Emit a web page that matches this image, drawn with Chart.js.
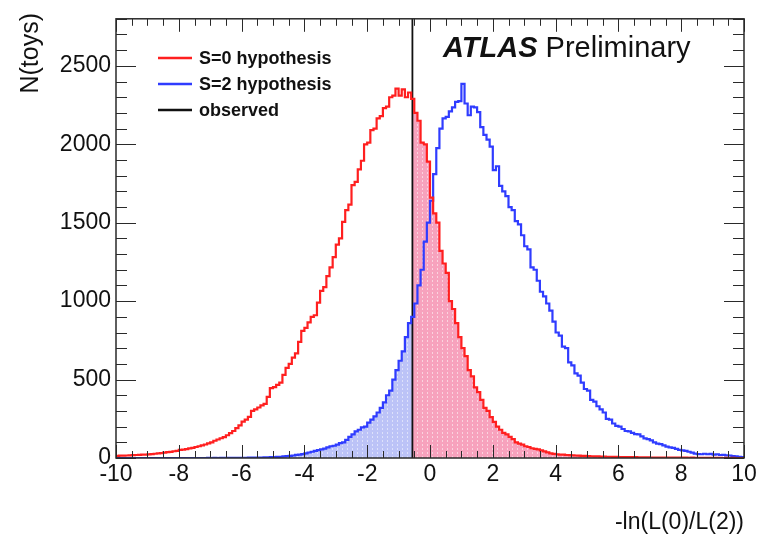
<!DOCTYPE html>
<html>
<head>
<meta charset="utf-8">
<script src="https://cdn.jsdelivr.net/npm/chart.js@4.4.1/dist/chart.umd.min.js"></script>
<style>
  html, body { margin: 0; padding: 0; background: #fff; }
  #wrap { width: 760px; height: 536px; }
</style>
</head>
<body>
<div id="wrap"><canvas id="toys"></canvas></div>
<script>
// histogram binning: 200 bins of 0.1 from -10 to 10
const binLow = -10;
const binHigh = 10;
const binWidth = 0.1;
const observed = -0.56;

// S=0 hypothesis, counts per bin
const s0Counts = [
  14, 15, 15, 16, 17, 18, 19, 20, 21, 22,
  23, 25, 27, 29, 31, 34, 37, 39, 43, 46,
  52, 54, 57, 61, 65, 70, 75, 80, 86, 93,
  100, 110, 118, 126, 133, 145, 158, 172, 190, 208,
  232, 245, 262, 300, 310, 322, 335, 345, 390, 445,
  452, 466, 480, 530, 575, 600, 640, 667, 740, 810,
  830, 865, 900, 910, 990, 1065, 1090, 1160, 1215, 1280,
  1360, 1400, 1505, 1580, 1615, 1740, 1760, 1840, 1895, 2000,
  2010, 2090, 2100, 2165, 2180, 2230, 2240, 2300, 2310, 2355,
  2310, 2350, 2300, 2330, 2290, 2200, 2150, 2010, 2000, 1890,
  1660, 1560, 1500, 1320, 1240, 1180, 1000, 950, 860, 770,
  700, 650, 560, 520, 450, 420, 370, 320, 300, 260,
  230, 200, 180, 160, 150, 135, 120, 100, 92, 85,
  75, 70, 62, 58, 55, 48, 42, 36, 30, 26,
  24, 22, 21, 19, 18, 17, 16, 15, 14, 14,
  12, 11, 10, 10, 9, 9, 8, 8, 7, 7,
  6, 6, 6, 5, 5, 5, 4, 4, 4, 4,
  3, 3, 3, 3, 3, 2, 2, 2, 2, 2,
  2, 2, 1, 2, 1, 1, 1, 1, 1, 1,
  1, 1, 1, 0, 1, 0, 1, 0, 0, 0
];

// S=2 hypothesis, counts per bin
const s2Counts = [
  0, 0, 0, 0, 0, 0, 0, 0, 0, 0,
  0, 0, 0, 0, 0, 0, 0, 0, 0, 0,
  0, 0, 0, 0, 0, 0, 0, 0, 0, 1,
  0, 1, 0, 1, 1, 1, 1, 1, 1, 1,
  1, 1, 2, 2, 2, 3, 3, 4, 4, 5,
  6, 7, 8, 10, 12, 14, 16, 20, 22, 25,
  30, 35, 40, 45, 50, 55, 60, 68, 75, 78,
  85, 95, 100, 115, 135, 150, 170, 180, 195, 200,
  225, 245, 265, 290, 320, 355, 400, 430, 500, 560,
  620, 680, 770, 860, 900, 985, 1100, 1200, 1380, 1500,
  1640, 1810, 1975, 2100, 2165, 2175, 2210, 2235, 2270, 2275,
  2385, 2260, 2185, 2240, 2235, 2205, 2110, 2060, 2030, 1985,
  1835, 1860, 1735, 1700, 1670, 1600, 1580, 1510, 1490, 1420,
  1350, 1330, 1215, 1200, 1130, 1060, 1030, 985, 940, 870,
  800, 780, 710, 700, 610, 590, 540, 525, 480, 440,
  430, 370, 360, 330, 310, 290, 250, 245, 220, 205,
  200, 185, 172, 170, 160, 152, 150, 138, 125, 120,
  112, 100, 92, 88, 80, 72, 68, 64, 58, 52,
  48, 45, 40, 34, 28, 25, 24, 27, 24, 26,
  22, 24, 19, 20, 17, 16, 12, 10, 8, 6
];

// axis tick labels
const xTickValues = [-10, -8, -6, -4, -2, 0, 2, 4, 6, 8, 10];
const yTickValues = [0, 500, 1000, 1500, 2000, 2500];
const yMax = 2800;

// step points at the bin low edges, plus the closing edge
function stepPoints(counts) {
  const pts = counts.map((c, i) => ({ x: binLow + i * binWidth, y: c }));
  pts.push({ x: binHigh, y: counts[counts.length - 1] });
  return pts;
}

// part of the histogram above (or below) the observed value, for the shaded tail
function tail(counts, above) {
  const k = Math.floor((observed - binLow) / binWidth);
  const pts = stepPoints(counts);
  if (above) {
    return [{ x: observed, y: counts[k] }].concat(pts.slice(k + 1));
  }
  return pts.slice(0, k + 1).concat([{ x: observed, y: counts[k] }]);
}

function hatch(base, stripe) {
  const c = document.createElement("canvas");
  c.width = 5; c.height = 4;
  const g = c.getContext("2d");
  g.fillStyle = base; g.fillRect(0, 0, 5, 4);
  g.fillStyle = stripe; g.fillRect(2, 0, 1, 2);
  return g.createPattern(c, "repeat");
}

const frame = {
  id: "frame",
  afterDatasetsDraw(chart) {
    const { ctx, chartArea: a, scales: { x, y } } = chart;
    ctx.save();
    ctx.strokeStyle = "#2a2a2a";
    ctx.lineWidth = 1;
    ctx.beginPath();
    // 4 minor divisions per labelled x step, 5 per labelled y step
    const xStep = (xTickValues[1] - xTickValues[0]) / 4;
    for (let k = 0; k <= 40; k++) {
      const px = Math.round(x.getPixelForValue(binLow + k * xStep)) + 0.5;
      const len = k % 4 === 0 ? 13 : 7;
      ctx.moveTo(px, a.bottom); ctx.lineTo(px, a.bottom - len);
      ctx.moveTo(px, a.top); ctx.lineTo(px, a.top + len);
    }
    const yStep = (yTickValues[1] - yTickValues[0]) / 5;
    for (let k = 0; k * yStep <= yMax; k++) {
      const py = Math.round(y.getPixelForValue(k * yStep)) + 0.5;
      const len = k % 5 === 0 ? 20 : 11;
      ctx.moveTo(a.left, py); ctx.lineTo(a.left + len, py);
      ctx.moveTo(a.right, py); ctx.lineTo(a.right - len, py);
    }
    ctx.stroke();
    ctx.lineWidth = 1.5;
    ctx.strokeRect(a.left, a.top, a.width, a.height);
    ctx.restore();
  },
  afterDraw(chart) {
    const { ctx, chartArea: a } = chart;
    ctx.save();
    // legend
    const rows = chart.data.datasets.filter(d => d.inLegend);
    rows.forEach((d, i) => {
      const yy = 58 + i * 26;
      ctx.strokeStyle = d.borderColor;
      ctx.lineWidth = 2.5;
      ctx.beginPath(); ctx.moveTo(158, yy); ctx.lineTo(192, yy); ctx.stroke();
      ctx.fillStyle = "#111";
      ctx.font = "bold 18px 'Liberation Sans', Arial, sans-serif";
      ctx.textBaseline = "middle";
      ctx.fillText(d.label, 199, yy + 1);
    });
    // experiment label
    ctx.textBaseline = "alphabetic";
    ctx.fillStyle = "#111";
    ctx.font = "italic bold 29px 'Liberation Sans', Arial, sans-serif";
    ctx.fillText("ATLAS", 443, 57);
    const w = ctx.measureText("ATLAS ").width;
    ctx.font = "29px 'Liberation Sans', Arial, sans-serif";
    ctx.fillText("Preliminary", 443 + w, 57);
    // axis titles
    ctx.font = "23px 'Liberation Sans', Arial, sans-serif";
    ctx.textAlign = "right";
    ctx.fillText("-ln(L(0)/L(2))", a.right, 529);
    ctx.font = "25px 'Liberation Sans', Arial, sans-serif";
    ctx.translate(38, 13);
    ctx.rotate(-Math.PI / 2);
    ctx.fillText("N(toys)", 0, 0);
    ctx.restore();
  }
};

const tickFont = { family: "'Liberation Sans', Arial, sans-serif", size: 23 };

const histConfig = {
  type: "line",
  data: {
    datasets: [
      {
        label: "S=0 hypothesis",
        inLegend: true,
        data: stepPoints(s0Counts),
        borderColor: "#ff1f1f",
        borderWidth: 2.2,
        stepped: true,
        pointRadius: 0,
        fill: false,
      },
      {
        label: "S=2 hypothesis",
        inLegend: true,
        data: stepPoints(s2Counts),
        borderColor: "#2f3cff",
        borderWidth: 2.2,
        stepped: true,
        pointRadius: 0,
        fill: false,
      },
      {
        label: "observed",
        inLegend: true,
        data: [{ x: observed, y: 0 }, { x: observed, y: yMax }],
        borderColor: "#111111",
        borderWidth: 1.8,
        pointRadius: 0,
        fill: false,
      },
      {
        label: "S=0 tail",
        data: tail(s0Counts, true),
        borderWidth: 0,
        stepped: true,
        pointRadius: 0,
        fill: "origin",
        backgroundColor: hatch("#f7a2bd", "#fbd3df"),
      },
      {
        label: "S=2 tail",
        data: tail(s2Counts, false),
        borderWidth: 0,
        stepped: true,
        pointRadius: 0,
        fill: "origin",
        backgroundColor: hatch("#bcc3f7", "#dde1fb"),
      },
    ],
  },
  options: {
    responsive: true,
    maintainAspectRatio: false,
    animation: false,
    layout: { padding: { top: 12, right: 16, left: 0, bottom: 0 } },
    plugins: {
      legend: { display: false },
      tooltip: { enabled: false },
    },
    scales: {
      x: {
        type: "linear",
        min: binLow,
        max: binHigh,
        grid: { display: false, drawTicks: false },
        border: { display: false },
        ticks: { color: "#111", font: tickFont, padding: 3, maxRotation: 0, autoSkip: false, callback: v => String(v) },
        afterBuildTicks(scale) { scale.ticks = xTickValues.map(value => ({ value })); },
        afterFit(scale) { scale.height = 78; },
      },
      y: {
        type: "linear",
        min: 0,
        max: yMax,
        grid: { display: false, drawTicks: false },
        border: { display: false },
        ticks: { color: "#111", font: tickFont, padding: 5, autoSkip: false, callback: v => String(v) },
        afterBuildTicks(scale) { scale.ticks = yTickValues.map(value => ({ value })); },
        afterFit(scale) { scale.width = 116; },
      },
    },
  },
  plugins: [frame],
};

const histCtx = document.getElementById("toys");
window.myHist = new Chart(histCtx, histConfig);
</script>
</body>
</html>
